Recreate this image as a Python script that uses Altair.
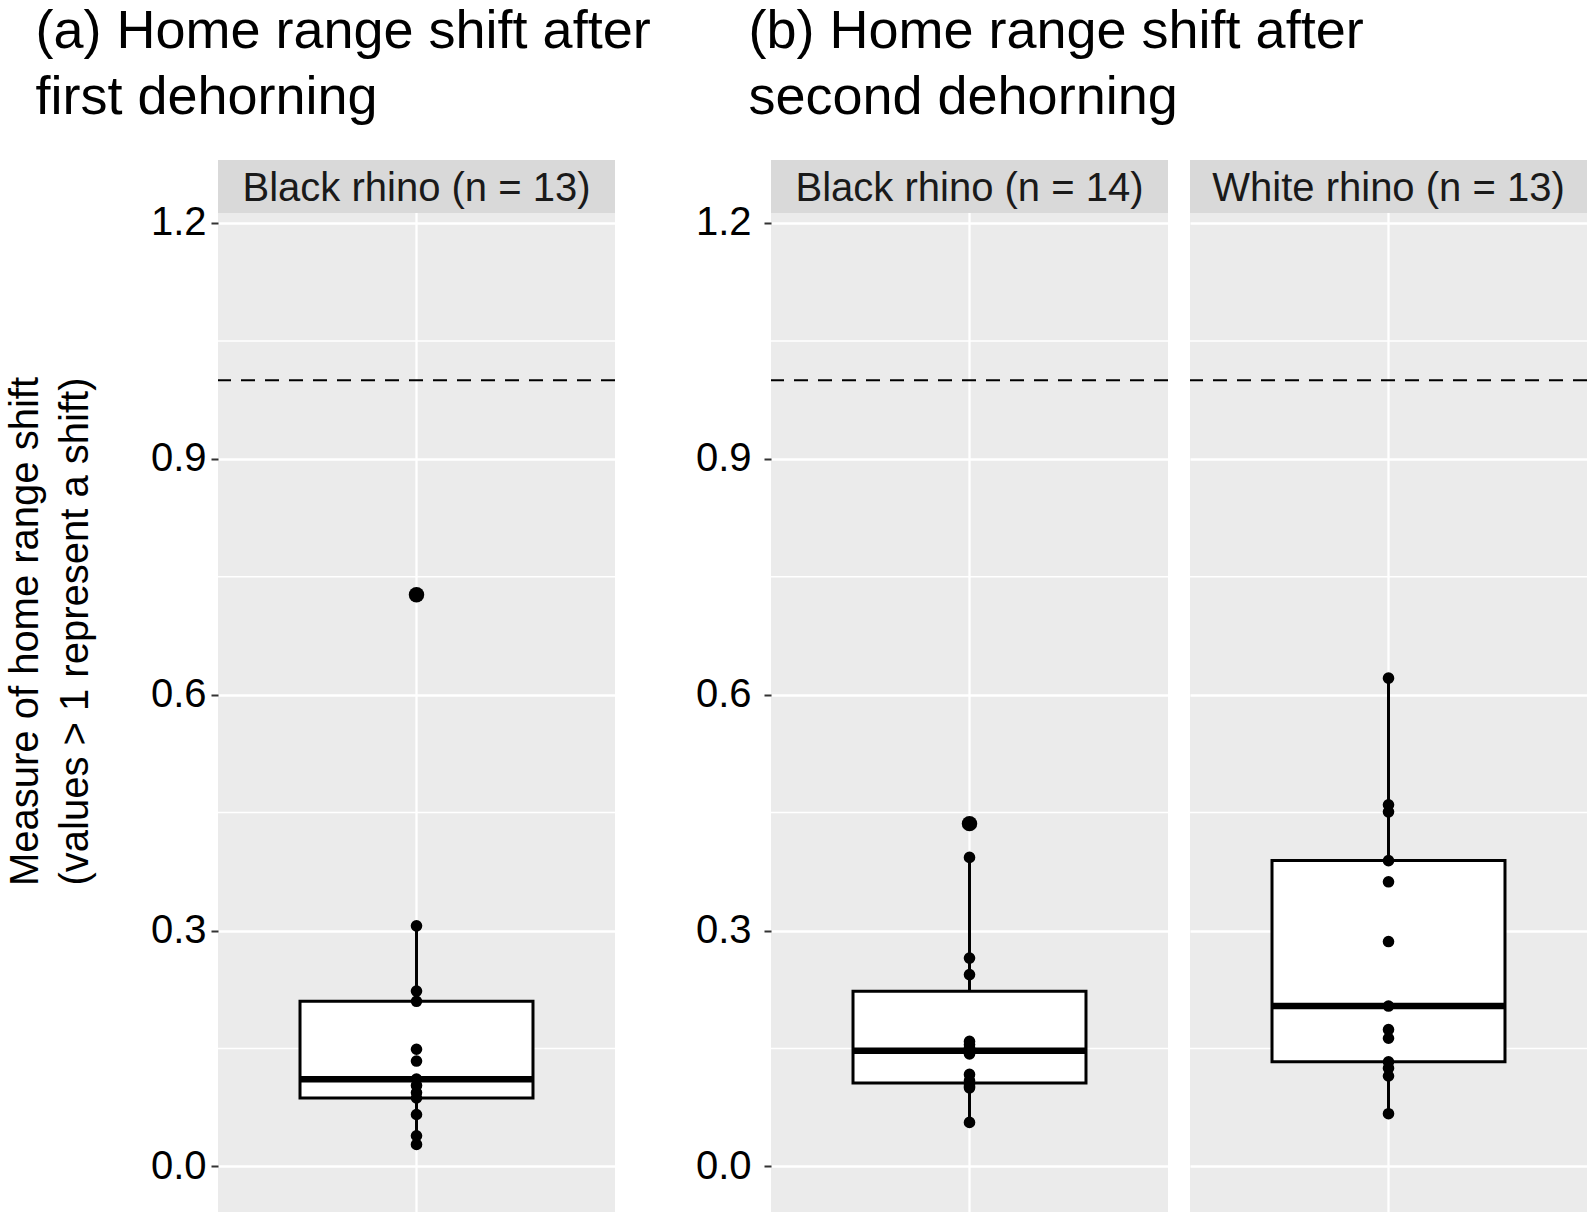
import altair as alt
import pandas as pd
import numpy as np

FONT = "Liberation Sans"

# ---------------- data ----------------
panel_keys = ["a", "b1", "b2"]
strip_labels = ["Black rhino (n = 13)", "Black rhino (n = 14)", "White rhino (n = 13)"]
shift_a = [0.028, 0.039, 0.066, 0.087, 0.094, 0.103, 0.111, 0.134, 0.149, 0.210, 0.223, 0.306, 0.727]
shift_b1 = [0.056, 0.100, 0.102, 0.105, 0.109, 0.117, 0.143, 0.151, 0.155, 0.159, 0.244, 0.265, 0.393, 0.436]
shift_b2 = [0.067, 0.115, 0.125, 0.133, 0.163, 0.174, 0.204, 0.286, 0.362, 0.389, 0.451, 0.460, 0.621]
y_major = [0.0, 0.3, 0.6, 0.9, 1.2]
y_minor = [0.15, 0.45, 0.75, 1.05]
threshold = [1.0]
title_a = ["(a) Home range shift after", "first dehorning"]
title_b = ["(b) Home range shift after", "second dehorning"]
y_title = ["Measure of home range shift", "(values > 1 represent a shift)"]

values_by_panel = {"a": shift_a, "b1": shift_b1, "b2": shift_b2}

# ---------------- layout constants ----------------
W = 397
H = 999
STRIP_H = 53
PO = 0.352
BAND = W / (1 + 2 * PO)
Y_DOMAIN = [-0.058, 1.2127]


def box_stats(vals):
    v = np.sort(np.array(vals, dtype=float))
    q1, med, q3 = np.quantile(v, [0.25, 0.5, 0.75])
    iqr = q3 - q1
    lo_f, hi_f = q1 - 1.5 * iqr, q3 + 1.5 * iqr
    inside = v[(v >= lo_f) & (v <= hi_f)]
    out = v[(v < lo_f) | (v > hi_f)]
    return dict(q1=q1, med=med, q3=q3, lo=inside.min(), hi=inside.max()), out


def make_panel(key, label, axis_mode):
    vals = values_by_panel[key]
    st, outs = box_stats(vals)
    pts = pd.DataFrame({"label": label, "value": vals})
    stats = pd.DataFrame([dict(label=label, **st)])
    outl = pd.DataFrame({"label": label, "value": list(outs)})
    minor = pd.DataFrame({"y": y_minor})
    thr = pd.DataFrame({"y": threshold})
    lab = pd.DataFrame({"label": [label]})

    yscale = alt.Scale(domain=Y_DOMAIN, nice=False, zero=False)
    xscale = alt.Scale(paddingInner=0, paddingOuter=PO)
    xenc = alt.X("label:N", scale=xscale, axis=None)

    common_axis = dict(values=y_major, format=".1f", grid=True, gridColor="white",
                       gridWidth=2.3, domain=False)
    if axis_mode == "a":
        axis = alt.Axis(**common_axis, ticks=True, tickSize=7, tickWidth=2, tickColor="#333333",
                        labels=True, labelFontSize=40, labelFont=FONT, labelColor="black",
                        labelPadding=5, title=y_title, titleFont=FONT, titleFontSize=40,
                        titleFontWeight="normal", titleColor="black", titleLineHeight=50,
                        titlePadding=55, titleY=418)
    elif axis_mode == "b1":
        axis = alt.Axis(**common_axis, ticks=True, tickSize=7, tickWidth=2, tickColor="#333333",
                        labels=True, labelFontSize=40, labelFont=FONT, labelColor="black",
                        labelPadding=13, title=None)
    else:
        axis = alt.Axis(**common_axis, ticks=False, labels=False, title=None)

    minor_rules = alt.Chart(minor).mark_rule(color="white", strokeWidth=1.5).encode(
        y=alt.Y("y:Q", scale=yscale, axis=axis)
    )
    vgrid = alt.Chart(lab).mark_rule(color="white", strokeWidth=2.3).encode(x=xenc)
    dash = alt.Chart(thr).mark_rule(color="black", strokeWidth=2, strokeDash=[14, 10]).encode(
        y=alt.Y("y:Q", scale=yscale)
    )
    whisk = alt.Chart(stats).mark_rule(color="black", strokeWidth=3).encode(
        x=xenc, y=alt.Y("lo:Q", scale=yscale), y2="hi:Q"
    )
    box = alt.Chart(stats).mark_rect(fill="white", stroke="black", strokeWidth=3).encode(
        x=xenc, y=alt.Y("q1:Q", scale=yscale), y2="q3:Q"
    )
    median = alt.Chart(stats).mark_tick(color="black", thickness=6.5, size=BAND, opacity=1).encode(
        x=xenc, y=alt.Y("med:Q", scale=yscale)
    )
    outliers = alt.Chart(outl).mark_circle(color="black", size=240, opacity=1).encode(
        x=xenc, y=alt.Y("value:Q", scale=yscale)
    )
    points = alt.Chart(pts).mark_circle(color="black", size=135, opacity=1).encode(
        x=xenc, y=alt.Y("value:Q", scale=yscale)
    )
    plot = alt.layer(minor_rules, vgrid, dash, whisk, box, median, outliers, points).properties(
        width=W, height=H
    )

    strip_bg = alt.Chart(lab).mark_rect(color="#D9D9D9").encode(
        x=alt.value(0), x2=alt.value(W), y=alt.value(0), y2=alt.value(STRIP_H)
    )
    strip_txt = alt.Chart(lab).mark_text(font=FONT, fontSize=40, color="#1A1A1A",
                                         baseline="middle", align="center").encode(
        text="label:N", x=alt.value(W / 2), y=alt.value(STRIP_H / 2 + 2)
    )
    strip = alt.layer(strip_bg, strip_txt).properties(width=W, height=STRIP_H)
    return alt.vconcat(strip, plot, spacing=0, bounds="flush")


def title_params(lines, dx):
    return alt.TitleParams(text=lines, anchor="start", font=FONT, fontSize=54,
                           fontWeight="normal", color="black", lineHeight=66,
                           offset=35, dx=dx)


colA = make_panel("a", strip_labels[0], "a").properties(title=title_params(title_a, 30))
colB1 = make_panel("b1", strip_labels[1], "b1")
colB2 = make_panel("b2", strip_labels[2], "b2")
colB = alt.hconcat(colB1, colB2, spacing=20).properties(title=title_params(title_b, 53))

chart = alt.hconcat(colA, colB, spacing=44).configure_view(
    fill="#EBEBEB", stroke=None
).properties(
    padding={"left": 5, "top": 5, "right": 0, "bottom": 6}, background="white"
)

chart.save("out.html", embed_options={"renderer": "svg", "actions": False})
